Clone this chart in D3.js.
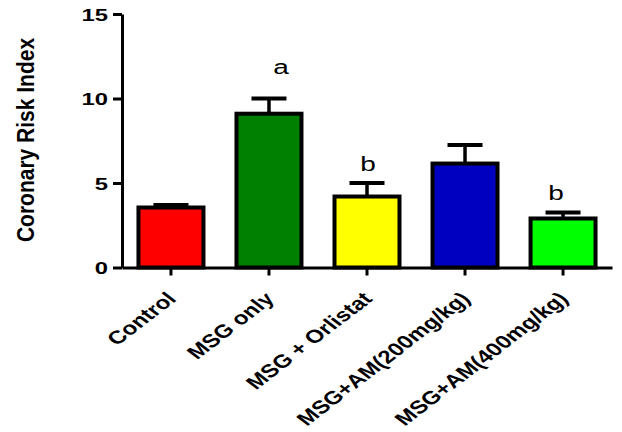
<!DOCTYPE html>
<html>
<head>
<meta charset="utf-8">
<script src="https://cdn.jsdelivr.net/npm/d3@7"></script>
<style>
  html, body { margin: 0; padding: 0; background: #fff; }
  svg { display: block; font-family: "Liberation Sans", Arial, sans-serif; }
</style>
</head>
<body>
<svg id="chart" width="622" height="432"></svg>
<script>
// Group labels, means, error (upper bar only) and significance letters
const categories = ["Control", "MSG only", "MSG + Orlistat", "MSG+AM(200mg/kg)", "MSG+AM(400mg/kg)"];
const means = [3.55, 9.1, 4.2, 6.15, 2.9];
const errors = [0.15, 0.9, 0.8, 1.1, 0.35];
const sigLetters = ["", "a", "b", "", "b"];
const barColors = ["#ff0000", "#008000", "#ffff00", "#0000c0", "#00ff00"];
const yTicks = [0, 5, 10, 15];
const yTitle = "Coronary Risk Index";

// Placement of the letters above the error caps: [dx, gap above cap]
const letterPlacement = [[0, 0], [12, 25], [1, 12.5], [0, 0], [-7, 12.5]];

const svg = d3.select("#chart");

const x = d3.scaleBand()
  .domain(categories)
  .range([122, 612])
  .paddingInner(0.337)
  .paddingOuter(0.168);

const y = d3.scaleLinear().domain([0, 15]).range([267.5, 14]);

const rows = categories.map((c, i) => ({
  cat: c, mean: means[i], err: errors[i], letter: sigLetters[i], color: barColors[i], i
}));

// Error bars (upper whisker + cap)
const eb = svg.append("g");
rows.forEach(d => {
  const cx = x(d.cat) + x.bandwidth() / 2;
  eb.append("line")
    .attr("x1", cx).attr("x2", cx)
    .attr("y1", y(d.mean)).attr("y2", y(d.mean + d.err))
    .attr("stroke", "#000").attr("stroke-width", 3.5);
  eb.append("line")
    .attr("x1", cx - 17.5).attr("x2", cx + 17.5)
    .attr("y1", y(d.mean + d.err)).attr("y2", y(d.mean + d.err))
    .attr("stroke", "#000").attr("stroke-width", 4);
});

// Bars
svg.append("g").selectAll("rect")
  .data(rows)
  .join("rect")
  .attr("x", d => x(d.cat))
  .attr("width", x.bandwidth())
  .attr("y", d => y(d.mean))
  .attr("height", d => y(0) - y(d.mean))
  .attr("fill", d => d.color)
  .attr("stroke", "#000")
  .attr("stroke-width", 4);

// Y axis
const yAxis = svg.append("g")
  .attr("transform", "translate(122,0)")
  .call(d3.axisLeft(y).tickValues(yTicks).tickSize(9).tickSizeOuter(0));
yAxis.select(".domain").attr("stroke", "#000").attr("stroke-width", 3);
yAxis.selectAll(".tick line").attr("stroke", "#000").attr("stroke-width", 3);
yAxis.selectAll(".tick text")
  .attr("x", 0).attr("dy", null)
  .attr("transform", "translate(-14,6) scale(1.4,1)")
  .attr("text-anchor", "end")
  .attr("font-size", 17)
  .attr("font-weight", "bold")
  .attr("font-family", "Liberation Sans, Arial, sans-serif")
  .attr("fill", "#000");

// X axis
const xAxis = svg.append("g")
  .attr("transform", `translate(0,${y(0)})`)
  .call(d3.axisBottom(x).tickSize(8).tickSizeOuter(0));
xAxis.select(".domain").attr("stroke", "#000").attr("stroke-width", 3);
xAxis.selectAll(".tick line").attr("stroke", "#000").attr("stroke-width", 3);
xAxis.selectAll(".tick text")
  .attr("y", 0).attr("dy", null)
  .attr("transform", "translate(6.5,32.5) scale(1.3,1) rotate(-45)")
  .attr("text-anchor", "end")
  .attr("font-size", 18.5)
  .attr("font-weight", "bold")
  .attr("font-family", "Liberation Sans, Arial, sans-serif")
  .attr("fill", "#000");

// Y axis title
svg.append("text")
  .attr("transform", "translate(33.5,140) rotate(-90) scale(1,1.1)")
  .attr("text-anchor", "middle")
  .attr("font-size", 21)
  .attr("font-weight", "bold")
  .attr("fill", "#000")
  .text(yTitle);

// Significance letters
svg.append("g").selectAll("text")
  .data(rows.filter(d => d.letter))
  .join("text")
  .attr("transform", d => {
    const [dx, gap] = letterPlacement[d.i];
    const cx = x(d.cat) + x.bandwidth() / 2 + dx;
    return `translate(${cx},${y(d.mean + d.err) - gap}) scale(1.4,1)`;
  })
  .attr("text-anchor", "middle")
  .attr("font-size", 20)
  .attr("fill", "#000")
  .text(d => d.letter);
</script>
</body>
</html>
